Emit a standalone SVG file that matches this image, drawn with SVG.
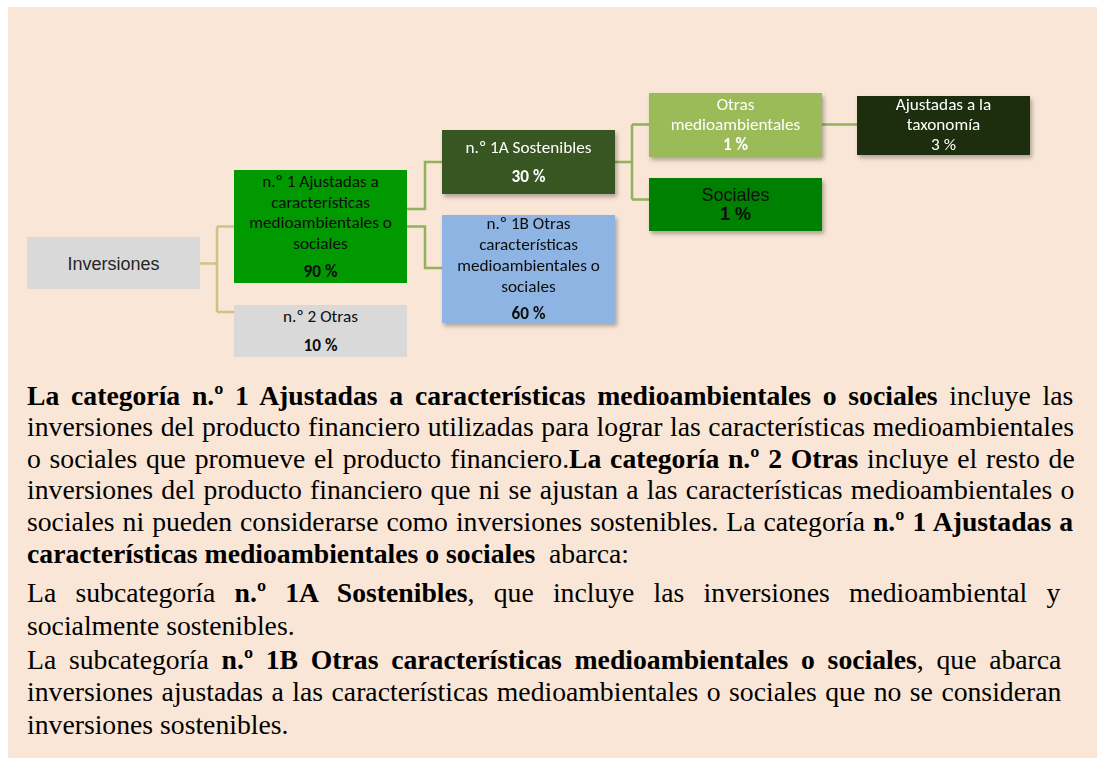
<svg xmlns="http://www.w3.org/2000/svg" width="1103" height="763" viewBox="0 0 1103 763">
<defs>
<filter id="sh" x="-10%" y="-20%" width="130%" height="150%">
<feDropShadow dx="2" dy="3" stdDeviation="2" flood-color="#000" flood-opacity="0.3"/>
</filter>
<style>
.bx{font-family:Carlito,Lato,"Open Sans",sans-serif;font-size:17.2px;text-anchor:middle}
.ar{font-family:"Liberation Sans",Arial,sans-serif;font-size:18px;text-anchor:middle}
.b{font-weight:bold}
.w{fill:#ffffff}
.k{fill:#0d0d0d}
.p{font-family:"Liberation Serif","Times New Roman",serif;font-size:27.7px;fill:#000}
.c1{fill:none;stroke:#cdc483;stroke-width:2.5}
.c2{fill:none;stroke:#93b05b;stroke-width:2.5}
</style>
</defs>
<rect x="8" y="7" width="1089" height="751" fill="#f9e6d6"/>
<g id="connectors">
<path class="c1" d="M200,263.5 H217 M217,226.5 V312 M217,226.5 H234 M217,312 H234"/>
<path class="c2" d="M407,209 H425 V162 H442 M407,226.5 H425 V268 H442"/>
<path class="c2" d="M615,162 H632 M632,124.5 V199.5 M632,124.5 H649 M632,199.5 H649"/>
<path class="c2" d="M822,124.5 H857"/>
</g>
<g id="inversiones">
<rect x="27" y="237" width="173" height="52" fill="#d9d9d9"/>
<text class="ar" x="113.5" y="270" fill="#262626">Inversiones</text>
</g>
<g id="n1">
<rect x="234" y="170" width="173" height="113" fill="#009900"/>
<text class="bx k" x="320.5" y="187.3">n.º 1 Ajustadas a</text>
<text class="bx k" x="320.5" y="207.7">características</text>
<text class="bx k" x="320.5" y="228.3">medioambientales o</text>
<text class="bx k" x="320.5" y="248.8">sociales</text>
<text class="bx k b" x="320.5" y="276.7">90 %</text>
</g>
<g id="n2">
<rect x="234" y="305" width="173" height="52" fill="#d9d9d9"/>
<text class="bx k" x="320.5" y="322.3">n.º 2 Otras</text>
<text class="bx k b" x="320.5" y="350.7">10 %</text>
</g>
<g id="n1a" filter="url(#sh)">
<rect x="442" y="130" width="173" height="64" fill="#375623"/>
<text class="bx w" x="528.5" y="153.3">n.º 1A Sostenibles</text>
<text class="bx w b" x="528.5" y="181.7">30 %</text>
</g>
<g id="n1b" filter="url(#sh)">
<rect x="442" y="215" width="173" height="108" fill="#8eb4e3"/>
<text class="bx k" x="528.5" y="229">n.º 1B Otras</text>
<text class="bx k" x="528.5" y="250">características</text>
<text class="bx k" x="528.5" y="271">medioambientales o</text>
<text class="bx k" x="528.5" y="291.5">sociales</text>
<text class="bx k b" x="528.5" y="319">60 %</text>
</g>
<g id="otras-medio" filter="url(#sh)">
<rect x="649" y="93" width="173" height="64" fill="#9bbb59"/>
<text class="bx w" x="735.5" y="110">Otras</text>
<text class="bx w" x="735.5" y="130.2">medioambientales</text>
<text class="bx w b" x="735.5" y="150.4">1 %</text>
</g>
<g id="sociales" filter="url(#sh)">
<rect x="649" y="178" width="173" height="53" fill="#008000"/>
<text class="ar k" x="735.5" y="200.7">Sociales</text>
<text class="ar k b" x="735.5" y="220">1 %</text>
</g>
<g id="taxonomia" filter="url(#sh)">
<rect x="857" y="96" width="173" height="59" fill="#1f2e0b"/>
<text class="bx w" x="943.5" y="110">Ajustadas a la</text>
<text class="bx w" x="943.5" y="130.2">taxonomía</text>
<text class="bx w" x="943.5" y="150.4">3 %</text>
</g>
<g id="texto">
<text class="p" x="27" y="404.5" word-spacing="4.8"><tspan class="b">La categoría n.º 1 Ajustadas a características medioambientales o sociales</tspan> incluye las</text>
<text class="p" x="27" y="436.1" word-spacing="0.6">inversiones del producto financiero utilizadas para lograr las características medioambientales</text>
<text class="p" x="27" y="467.7" word-spacing="1.8">o sociales que promueve el producto financiero.<tspan class="b">La categoría n.º 2 Otras</tspan> incluye el resto de</text>
<text class="p" x="27" y="499.3" word-spacing="1.3">inversiones del producto financiero que ni se ajustan a las características medioambientales o</text>
<text class="p" x="27" y="530.9" word-spacing="1.05">sociales ni pueden considerarse como inversiones sostenibles. La categoría <tspan class="b">n.º 1 Ajustadas a</tspan></text>
<text class="p" x="27" y="562.5"><tspan class="b">características medioambientales o sociales</tspan><tspan x="549">abarca:</tspan></text>
<text class="p" x="27" y="601.9" word-spacing="12.3">La subcategoría <tspan class="b">n.º 1A Sostenibles</tspan>, que incluye las inversiones medioambiental y</text>
<text class="p" x="27" y="635.1">socialmente sostenibles.</text>
<text class="p" x="27" y="668.5" word-spacing="5.8">La subcategoría <tspan class="b">n.º 1B Otras características medioambientales o sociales</tspan>, que abarca</text>
<text class="p" x="27" y="701.1" word-spacing="1.56">inversiones ajustadas a las características medioambientales o sociales que no se consideran</text>
<text class="p" x="27" y="733.7">inversiones sostenibles.</text>
</g>
</svg>
